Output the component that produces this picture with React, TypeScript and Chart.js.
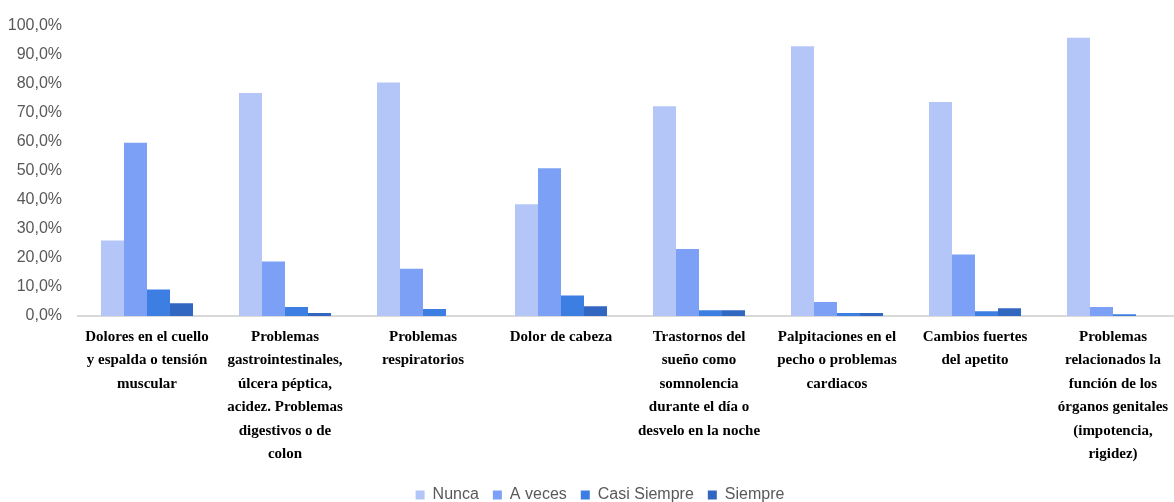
import React, { useEffect, useRef } from "react";
import { Chart, registerables } from "chart.js";

Chart.register(...registerables);

const categories: string[][] = [
  ["Dolores en el cuello", "y espalda o tensión", "muscular"],
  ["Problemas", "gastrointestinales,", "úlcera péptica,", "acidez. Problemas", "digestivos o de", "colon"],
  ["Problemas", "respiratorios"],
  ["Dolor de cabeza"],
  ["Trastornos del", "sueño como", "somnolencia", "durante el día o", "desvelo en la noche"],
  ["Palpitaciones en el", "pecho o problemas", "cardiacos"],
  ["Cambios fuertes", "del apetito"],
  ["Problemas", "relacionados la", "función de los", "órganos genitales", "(impotencia,", "rigidez)"],
];

const seriesNames = ["Nunca", "A veces", "Casi Siempre", "Siempre"];
const nunca = [26.0, 76.8, 80.4, 38.5, 72.2, 92.9, 73.7, 95.8];
const aVeces = [59.7, 18.8, 16.3, 50.9, 23.1, 4.8, 21.2, 3.1];
const casiSiempre = [9.1, 3.1, 2.4, 7.1, 2.0, 1.0, 1.6, 0.6];
const siempre = [4.4, 1.0, 0, 3.4, 2.0, 1.0, 2.7, 0];
const colors = ["#B4C6F8", "#7BA0F5", "#3C7EE1", "#3267C1"];

const W = 1182;
const H = 514;

const shiftLegend = {
  id: "shiftLegend",
  afterLayout(chart: any) {
    const l = chart.legend;
    if (l) {
      l.left += 9;
      l.right += 9;
    }
  },
};

export default function App() {
  const ref = useRef<HTMLCanvasElement | null>(null);
  useEffect(() => {
    if (!ref.current) return;
    const values = [nunca, aVeces, casiSiempre, siempre];
    const chart = new Chart(ref.current, {
      type: "bar",
      data: {
        labels: categories,
        datasets: seriesNames.map((name, i) => ({
          label: name,
          data: values[i],
          backgroundColor: colors[i],
          borderWidth: 0,
          barPercentage: 1,
          categoryPercentage: 0.667,
        })),
      },
      plugins: [shiftLegend],
      options: {
        animation: false,
        responsive: false,
        maintainAspectRatio: false,
        layout: { padding: { top: 11, left: 0, right: 0, bottom: 1 } },
        plugins: {
          tooltip: { enabled: false },
          legend: {
            position: "bottom",
            labels: {
              boxWidth: 9,
              boxHeight: 9,
              padding: 14,
              color: "#595959",
              font: { family: "Liberation Sans", size: 16 },
            },
          },
        },
        scales: {
          x: {
            grid: { display: false, drawTicks: false },
            border: { display: true, color: "#d9d9d9", width: 2 },
            ticks: {
              maxRotation: 0,
              autoSkip: false,
              padding: 9,
              color: "#000000",
              font: { family: "Liberation Serif", size: 15, weight: "bold", lineHeight: 1.57 },
            },
            afterFit: (scale: any) => {
              scale.height = 157;
            },
          },
          y: {
            min: 0,
            max: 100,
            grid: { display: false, drawTicks: false },
            border: { display: false },
            ticks: {
              stepSize: 10,
              padding: 16,
              color: "#595959",
              font: { family: "Liberation Sans", size: 16 },
              callback: (v: any) => Number(v).toFixed(1).replace(".", ",") + "%",
            },
            afterFit: (scale: any) => {
              scale.width = 78;
            },
          },
        },
      },
    });
    return () => chart.destroy();
  }, []);
  return (
    <div style={{ position: "fixed", left: 0, top: 0, width: W, height: H, background: "#fff" }}>
      <canvas ref={ref} width={W} height={H} style={{ width: W, height: H }} />
    </div>
  );
}
